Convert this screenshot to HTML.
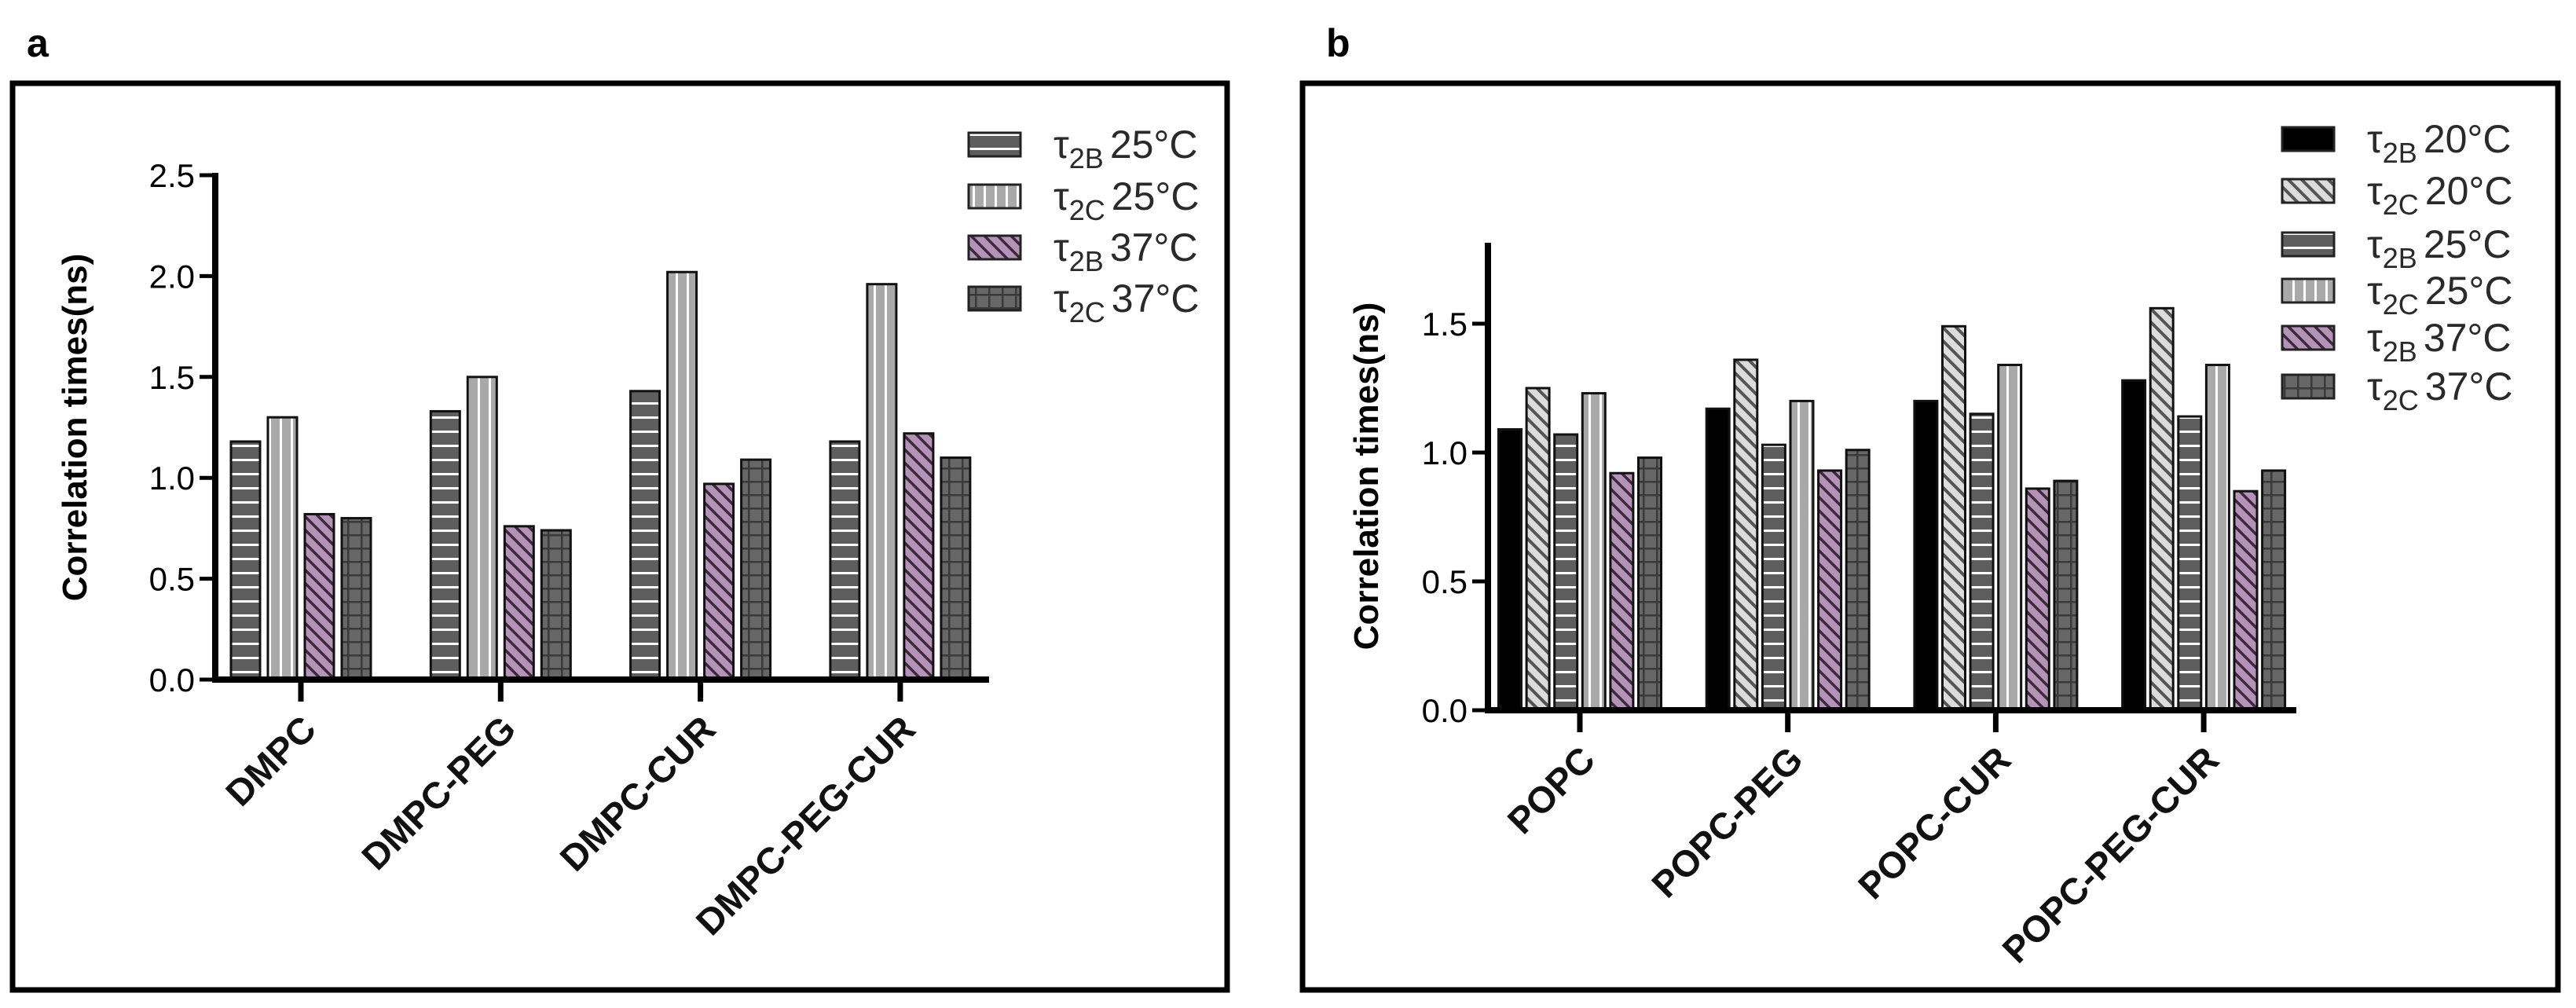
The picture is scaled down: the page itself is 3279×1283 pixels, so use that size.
<!DOCTYPE html>
<html><head><meta charset="utf-8"><style>
html,body{margin:0;padding:0;background:#fff;}
svg{display:block;font-family:"Liberation Sans",sans-serif;}
</style></head><body>
<svg id="fig" width="3279" height="1283" viewBox="0 0 3279 1283" xmlns="http://www.w3.org/2000/svg">
<defs>
<pattern id="pHS" width="20" height="18" patternUnits="userSpaceOnUse"><rect width="20" height="18" fill="#5e5e5e"/><rect y="8" width="20" height="3" fill="#fff"/></pattern>
<pattern id="pVS" width="14" height="20" patternUnits="userSpaceOnUse"><rect width="14" height="20" fill="#a9a9a9"/><rect x="6" width="3" height="20" fill="#fff"/></pattern>
<pattern id="pPU" width="12" height="12" patternUnits="userSpaceOnUse" patternTransform="rotate(-45)"><rect width="12" height="12" fill="#b592b8"/><rect width="3.5" height="12" fill="#3a2a3a"/></pattern>
<pattern id="pGR" width="17" height="17" patternUnits="userSpaceOnUse"><rect width="17" height="17" fill="#676767"/><rect width="2.5" height="17" fill="#3a3a3a"/><rect width="17" height="2.5" fill="#3a3a3a"/></pattern>
<pattern id="pDG" width="12" height="12" patternUnits="userSpaceOnUse" patternTransform="rotate(-45)"><rect width="12" height="12" fill="#dcdcdc"/><rect width="4" height="12" fill="#555"/></pattern>
</defs>
<g id="root"></g>
</svg>
<script>
// ---- Panel a data ----
const catsA = ["DMPC","DMPC-PEG","DMPC-CUR","DMPC-PEG-CUR"];
const seriesNamesA = [["2B","25°C"],["2C","25°C"],["2B","37°C"],["2C","37°C"]];
const a_t2B25 = [1.18,1.33,1.43,1.18];
const a_t2C25 = [1.30,1.50,2.02,1.96];
const a_t2B37 = [0.82,0.76,0.97,1.22];
const a_t2C37 = [0.80,0.74,1.09,1.10];
const ticksA = [0,0.5,1.0,1.5,2.0,2.5];
const tickLabelsA = ["0.0","0.5","1.0","1.5","2.0","2.5"];
// ---- Panel b data ----
const catsB = ["POPC","POPC-PEG","POPC-CUR","POPC-PEG-CUR"];
const seriesNamesB = [["2B","20°C"],["2C","20°C"],["2B","25°C"],["2C","25°C"],["2B","37°C"],["2C","37°C"]];
const b_t2B20 = [1.09,1.17,1.20,1.28];
const b_t2C20 = [1.25,1.36,1.49,1.56];
const b_t2B25 = [1.07,1.03,1.15,1.14];
const b_t2C25 = [1.23,1.20,1.34,1.34];
const b_t2B37 = [0.92,0.93,0.86,0.85];
const b_t2C37 = [0.98,1.01,0.89,0.93];
const ticksB = [0,0.5,1.0,1.5];
const tickLabelsB = ["0.0","0.5","1.0","1.5"];

const NS="http://www.w3.org/2000/svg";
const root=document.getElementById('root');
function mk(tag,attrs,parent){const e=document.createElementNS(NS,tag);for(const k in attrs)e.setAttribute(k,attrs[k]);(parent||root).appendChild(e);return e;}

function panel(cfg){
  const g=mk('g',{});
  
  
  const box=mk('rect',{x:cfg.box[0],y:cfg.box[1],width:cfg.box[2]-cfg.box[0],height:cfg.box[3]-cfg.box[1],fill:'none',stroke:'#000','stroke-width':7},g);
  
  
  const pl=mk('text',{x:cfg.lab[0],y:cfg.lab[1],'font-size':50,'font-weight':'bold',fill:'#000'},g);
  pl.textContent=cfg.letter;
  
  
  const yS=v=>cfg.y0-v*cfg.ppu;
  const xS=i=>cfg.g0+i*cfg.gstep;
  const nS=cfg.series.length;
  cfg.series.forEach((vals,s)=>{
    vals.forEach((v,i)=>{
      const cx=xS(i)+(s-(nS-1)/2)*cfg.bstep;
      const r=mk('rect',{x:cx-cfg.bw/2,y:yS(v),width:cfg.bw,height:cfg.y0-yS(v),fill:cfg.fills[s],stroke:'#111','stroke-width':3},g);
      
      
    });
  });
  const ya=mk('line',{x1:cfg.ax,y1:cfg.y0+4,x2:cfg.ax,y2:cfg.ytop,stroke:'#000','stroke-width':8},g);
  
  
  const xa=mk('line',{x1:cfg.ax-4,y1:cfg.y0,x2:cfg.xend,y2:cfg.y0,stroke:'#000','stroke-width':8},g);
  
  
  cfg.ticks.forEach((t,k)=>{
    mk('line',{x1:cfg.ax-20,y1:yS(t),x2:cfg.ax,y2:yS(t),stroke:'#000','stroke-width':5},g);
    const tl=mk('text',{x:cfg.ax-26,y:yS(t)+15,'text-anchor':'end','font-size':42,fill:'#000'},g);
    tl.textContent=cfg.tickLabels[k];
    
    
  });
  cfg.cats.forEach((c,i)=>{
    mk('line',{x1:xS(i),y1:cfg.y0,x2:xS(i),y2:cfg.y0+28,stroke:'#000','stroke-width':7},g);
    const tx=xS(i)+22, ty=cfg.y0+66;
    const xl=mk('text',{x:tx,y:ty,'text-anchor':'end','font-size':47,'font-weight':'bold',fill:'#111',transform:`rotate(-45 ${tx} ${ty})`},g);
    xl.textContent=c;
    
    
  });
  const yt=mk('text',{x:cfg.yt[0],y:cfg.yt[1],'text-anchor':'middle','font-size':44,'font-weight':'bold',fill:'#000',transform:`rotate(-90 ${cfg.yt[0]} ${cfg.yt[1]})`},g);
  yt.textContent='Correlation times(ns)';
  
  
  cfg.names.forEach((n,s)=>{
    const cy=cfg.legY[s];
    const sw=mk('rect',{x:cfg.legX,y:cy-15,width:66,height:30,fill:cfg.fills[s],stroke:'#222','stroke-width':3},g);
    
    
    const t=mk('text',{x:cfg.legX+108,y:cy+17,'font-size':50,fill:'#2a2a2a'},g);
    
    
    const a=mk('tspan',{},t);a.textContent='τ';
    const b=mk('tspan',{dy:13,'font-size':36},t);b.textContent=n[0];
    const c=mk('tspan',{dy:-13,dx:8},t);c.textContent=n[1];
  });
}

panel({name:'panel-a',letter:'a',lab:[34,72],box:[16,106,1562,1260],
  cats:catsA,series:[a_t2B25,a_t2C25,a_t2B37,a_t2C37],fills:['url(#pHS)','url(#pVS)','url(#pPU)','url(#pGR)'],
  names:seriesNamesA,ticks:ticksA,tickLabels:tickLabelsA,
  y0:865,ppu:256.8,ytop:220,ax:274,xend:1259,g0:383,gstep:254.3,bw:37,bstep:47,
  yt:[110,544],legX:1233,legY:[184,250,315,380]});
panel({name:'panel-b',letter:'b',lab:[1688,72],box:[1658,106,3256,1260],
  cats:catsB,series:[b_t2B20,b_t2C20,b_t2B25,b_t2C25,b_t2B37,b_t2C37],fills:['#000','url(#pDG)','url(#pHS)','url(#pVS)','url(#pPU)','url(#pGR)'],
  names:seriesNamesB,ticks:ticksB,tickLabels:tickLabelsB,
  y0:904,ppu:328,ytop:309,ax:1894,xend:2923,g0:2011,gstep:264.7,bw:29,bstep:35.6,
  yt:[1754,606],legX:2905,legY:[177,243,311,370,430,492]});
</script>
</body></html>
